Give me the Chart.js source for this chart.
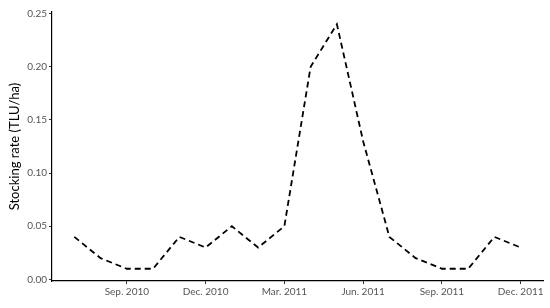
<!DOCTYPE html>
<html>
<head>
<meta charset="utf-8">
<script src="https://cdn.jsdelivr.net/npm/chart.js@4"></script>
<style>
    body { margin: 0; background: #fff; }
</style>
</head>
<body>
<canvas id="stocking-chart" width="550" height="308"></canvas>
<script>
// months from Jul. 2010 to Dec. 2011, one value per month
const months = ["Jul. 2010", "Aug. 2010", "Sep. 2010", "Oct. 2010", "Nov. 2010", "Dec. 2010",
    "Jan. 2011", "Feb. 2011", "Mar. 2011", "Apr. 2011", "May. 2011", "Jun. 2011",
    "Jul. 2011", "Aug. 2011", "Sep. 2011", "Oct. 2011", "Nov. 2011", "Dec. 2011"];
const stockingRate = [0.04, 0.02, 0.01, 0.01, 0.04, 0.03, 0.05, 0.03, 0.05,
    0.20, 0.24, 0.13, 0.04, 0.02, 0.01, 0.01, 0.04, 0.03];
const xTickLabels = ["Sep. 2010", "Dec. 2010", "Mar. 2011", "Jun. 2011", "Sep. 2011", "Dec. 2011"];
const yTicks = [0, 0.05, 0.1, 0.15, 0.2, 0.25];

const points = stockingRate.map((value, i) => ({ x: i, y: value }));
const xTickPositions = xTickLabels.map((label) => months.indexOf(label));

const ctx = document.getElementById("stocking-chart");

new Chart(ctx, {
    type: "line",
    data: {
        datasets: [
            {
                data: points,
                borderColor: "#000",
                borderWidth: 1.8,
                borderDash: [6, 4],
                pointRadius: 0,
                tension: 0,
                fill: false,
            },
        ],
    },
    options: {
        responsive: false,
        animation: false,
        layout: { padding: { left: 0, right: 7, top: 12, bottom: 0 } },
        plugins: {
            legend: { display: false },
            tooltip: { enabled: false },
        },
        scales: {
            x: {
                type: "linear",
                min: -0.85,
                max: 17.85,
                afterBuildTicks: (scale) => {
                    scale.ticks = xTickPositions.map((v) => ({ value: v }));
                },
                afterFit: (scale) => {
                    scale.height = 27;
                },
                ticks: {
                    autoSkip: false,
                    maxRotation: 0,
                    padding: 2,
                    color: "#555",
                    font: { family: "Lato", size: 10 },
                    callback: (value) => months[value],
                },
                grid: {
                    drawOnChartArea: false,
                    drawTicks: true,
                    tickLength: 3,
                    color: "#333",
                },
                border: { display: true, color: "#000", width: 1.2 },
            },
            y: {
                min: -0.0015,
                max: 0.2515,
                afterBuildTicks: (scale) => {
                    scale.ticks = yTicks.map((v) => ({ value: v }));
                },
                afterFit: (scale) => {
                    scale.width = 52;
                },
                ticks: {
                    padding: 2,
                    color: "#555",
                    font: { family: "Lato", size: 10 },
                    callback: (value) => value.toFixed(2),
                },
                title: {
                    display: true,
                    text: "Stocking rate (TLU/ha)",
                    color: "#000",
                    font: { family: "Lato", size: 13 },
                    padding: { top: 7, bottom: 2 },
                },
                grid: {
                    drawOnChartArea: false,
                    drawTicks: true,
                    tickLength: 3,
                    color: "#333",
                },
                border: { display: true, color: "#000", width: 1.2 },
            },
        },
    },
});
</script>
</body>
</html>
